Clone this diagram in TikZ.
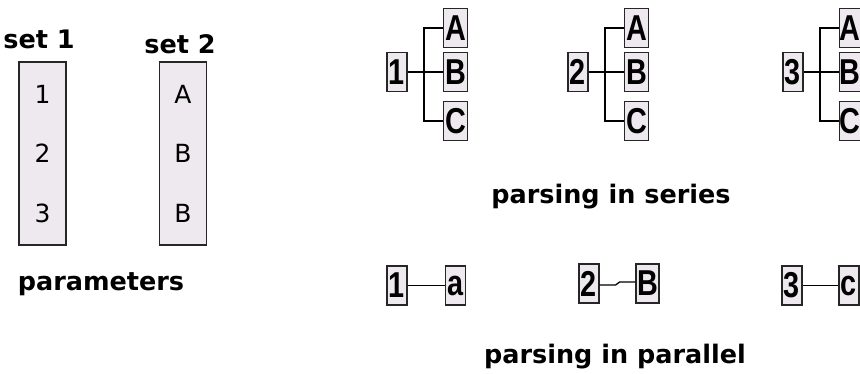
\documentclass[tikz,border=0pt]{standalone}
\usepackage{fontspec}
\usepackage{graphicx}
\setmainfont{DejaVu Sans}
\newfontfamily\boxfont{Liberation Sans}
\definecolor{boxfill}{RGB}{238,233,238}
\newcommand\tagtxt[1]{\scalebox{0.8}[1]{#1}}
\tikzset{
  title/.style={font=\bfseries\fontsize{25.5}{26}\selectfont, inner sep=0pt, anchor=base},
  bigbox/.style={draw=black!85, line width=1.3pt, fill=boxfill, minimum width=47pt, minimum height=183pt, inner sep=0pt},
  item/.style={font=\fontsize{25}{25}\selectfont, inner sep=0pt},
  tag/.style={draw=black!85, line width=1.2pt, fill=boxfill, minimum width=20pt, minimum height=39pt, inner sep=0pt, font=\boxfont\bfseries\fontsize{36}{36}\selectfont},
  wire/.style={line width=1.3pt}
}
\begin{document}
\begin{tikzpicture}[x=1pt,y=-1pt]
    \useasboundingbox (0,0) rectangle (860,373);
    % parameters
    \node[title] (set1) at (39,48) {set 1};
    \node[title] (set2) at (180,53) {set 2};
    \node[bigbox] (box1) at (42.5,153.5) {};
    \node[bigbox] (box2) at (183,153.5) {};
    \foreach \v/\w [count=\i] in {1/A,2/B,3/B} {
        \node[item] (p\i) at (42.5,{94+59.5*(\i-1)}) {\v};
        \node[item] (q\i) at (183,{94+59.5*(\i-1)}) {\w};
    }
    \node[title] (params) at (101,290) {parameters};
    % parsing in series
    \foreach \n/\x/\w in {1/387/24,2/568/24,3/783/21} {
        \node[tag] (s\n) at (\x+10,72) {\tagtxt{\n}};
        \coordinate (j\n) at (\x+37,72);
        \node[tag, minimum width=\w pt, anchor=west] (s\n a) at (\x+56,28) {\tagtxt{A}};
        \node[tag, minimum width=\w pt, anchor=west] (s\n b) at (\x+56,72) {\tagtxt{B}};
        \node[tag, minimum width=\w pt, anchor=west] (s\n c) at (\x+56,121) {\tagtxt{C}};
        \draw[wire, line width=2pt] (s\n.east) -- (j\n);
        \draw[wire] (j\n) -- (s\n b.west);
        \draw[wire] (s\n a.west) -| (j\n) |- (s\n c.west);
    }
    \node[title] (series) at (611,203) {parsing in series};
    % parsing in parallel
    \node[tag] (r1) at (397,285.5) {\tagtxt{1}};
    \node[tag] (t1) at (455.5,285.5) {\tagtxt{a}};
    \node[tag] (r2) at (589,283.5) {\tagtxt{2}};
    \node[tag, minimum width=23pt] (t2) at (647.5,283.5) {\tagtxt{B}};
    \node[tag] (r3) at (792,285.5) {\tagtxt{3}};
    \node[tag] (t3) at (849,285.5) {\tagtxt{c}};
    \draw[wire] (r1) -- (t1);
    \draw[wire] ([yshift=-1.5pt]r2.east) -- ++(16,0) -- ++(4,-3) -- ([yshift=1.5pt]t2.west);
    \draw[wire] (r3) -- (t3);
    \node[title] (parallel) at (615,363) {parsing in parallel};
\end{tikzpicture}
\end{document}
